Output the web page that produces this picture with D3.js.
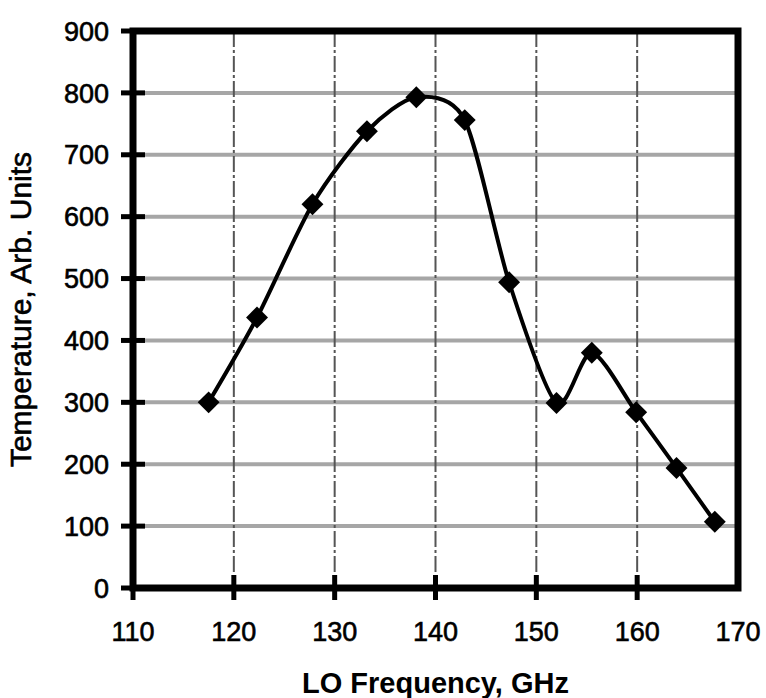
<!DOCTYPE html>
<html>
<head>
<meta charset="utf-8">
<script src="https://cdn.jsdelivr.net/npm/d3@7"></script>
<style>
  html, body { margin: 0; padding: 0; background: #fff; }
  svg { display: block; }
  text { font-family: "Liberation Sans", Arial, sans-serif; fill: #000; }
  .heavy { stroke: #000; stroke-width: 0.6px; }
</style>
</head>
<body>
<svg id="chart" width="766" height="698"></svg>
<script>
// ---- data ----
const freqGHz = [117.5, 122.3, 127.8, 133.2, 138.1, 142.9, 147.3, 152.0, 155.5, 159.9, 163.9, 167.7];
const temperature = [300, 437, 620, 738, 793, 756, 494, 299, 380, 284, 194, 107];
const xTicks = [110, 120, 130, 140, 150, 160, 170];
const yTicks = [0, 100, 200, 300, 400, 500, 600, 700, 800, 900];
const xTitle = "LO Frequency, GHz";
const yTitle = "Temperature, Arb. Units";

(function () {
const svg = d3.select("#chart");
const pL = 133, pR = 738, pT = 31, pB = 588;

const x = d3.scaleLinear().domain([110, 170]).range([pL, pR]);
const y = d3.scaleLinear().domain([0, 900]).range([pB, pT]);

// horizontal gridlines
svg.append("g").selectAll("line")
  .data(yTicks.filter(d => d > 0 && d < 900))
  .join("line")
  .attr("x1", pL).attr("x2", pR)
  .attr("y1", d => y(d)).attr("y2", d => y(d))
  .attr("stroke", "#a6a6a6").attr("stroke-width", 4);

// vertical gridlines
svg.append("g").selectAll("line")
  .data(xTicks.filter(d => d > 110 && d < 170))
  .join("line")
  .attr("x1", d => x(d)).attr("x2", d => x(d))
  .attr("y1", pT).attr("y2", pB)
  .attr("stroke", "#555").attr("stroke-width", 2)
  .attr("stroke-dasharray", "16,3,3,3");

// frame
svg.append("rect")
  .attr("x", pL).attr("y", pT)
  .attr("width", pR - pL).attr("height", pB - pT)
  .attr("fill", "none").attr("stroke", "#000").attr("stroke-width", 7);

// y ticks
svg.append("g").selectAll("line")
  .data(yTicks).join("line")
  .attr("x1", pL - 12).attr("x2", pL + 12)
  .attr("y1", d => y(d)).attr("y2", d => y(d))
  .attr("stroke", "#000").attr("stroke-width", 5);

// x ticks
svg.append("g").selectAll("line")
  .data(xTicks.filter(d => d < 170)).join("line")
  .attr("x1", d => x(d)).attr("x2", d => x(d))
  .attr("y1", pB - 13).attr("y2", pB + 12)
  .attr("stroke", "#000").attr("stroke-width", 5);

// y tick labels
svg.append("g").selectAll("text")
  .data(yTicks).join("text")
  .attr("class", "heavy")
  .attr("x", 109).attr("y", d => y(d))
  .attr("dy", "0.36em")
  .attr("text-anchor", "end")
  .attr("font-size", 27)
  .text(d => d);

// x tick labels
svg.append("g").selectAll("text")
  .data(xTicks).join("text")
  .attr("class", "heavy")
  .attr("x", d => x(d)).attr("y", 641)
  .attr("text-anchor", "middle")
  .attr("font-size", 27)
  .text(d => d);

// axis titles
svg.append("text")
  .attr("x", (pL + pR) / 2).attr("y", 693)
  .attr("text-anchor", "middle")
  .attr("font-size", 29).attr("font-weight", "bold")
  .text(xTitle);

svg.append("text")
  .attr("class", "heavy")
  .attr("transform", `translate(31,${(pT + pB) / 2}) rotate(-90)`)
  .attr("text-anchor", "middle")
  .attr("font-size", 30)
  .text(yTitle);

// data line
const pts = freqGHz.map((f, i) => [f, temperature[i]]);
const line = d3.line()
  .x(d => x(d[0])).y(d => y(d[1]))
  .curve(d3.curveCardinal.tension(0.2));
svg.append("path")
  .datum(pts)
  .attr("d", line)
  .attr("fill", "none").attr("stroke", "#000").attr("stroke-width", 4);

// markers
svg.append("g").selectAll("path")
  .data(pts).join("path")
  .attr("d", d3.symbol().type(d3.symbolSquare).size(240))
  .attr("transform", d => `translate(${x(d[0])},${y(d[1])}) rotate(45)`)
  .attr("fill", "#000");
})();
</script>
</body>
</html>
